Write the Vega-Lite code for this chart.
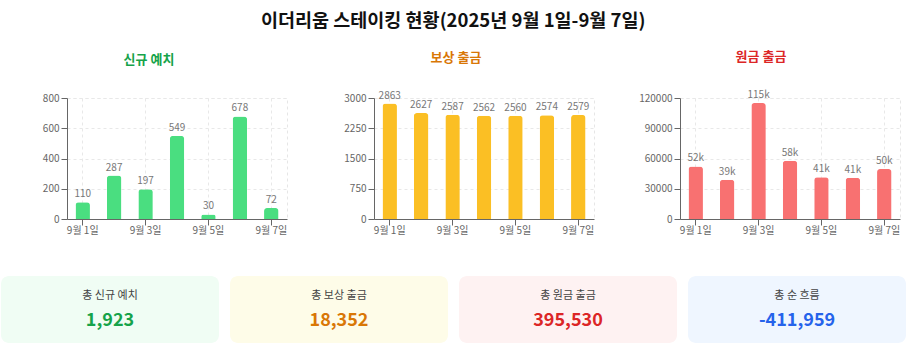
{
  "$schema": "https://vega.github.io/schema/vega-lite/v6.json",
  "padding": {"left": 0, "top": 12, "right": 5, "bottom": 5},
  "title": {"text": "이더리움 스테이킹 현황(2025년 9월 1일-9월 7일)", "fontSize": 18.5, "fontWeight": "bold", "color": "#111111", "anchor": "middle", "offset": 20},
  "spacing": 40,
  "vconcat": [
    {
      "spacing": 40,
      "hconcat": [
        {
          "width": 220, "height": 121,
          "title": {"text": "신규 예치", "color": "#16a34a", "fontSize": 13, "fontWeight": "bold", "anchor": "middle", "frame": "group", "dx": -28, "offset": 26},
          "data": {"values": [
            {"date": "9월 1일", "value": 110},
            {"date": "9월 2일", "value": 287},
            {"date": "9월 3일", "value": 197},
            {"date": "9월 4일", "value": 549},
            {"date": "9월 5일", "value": 30},
            {"date": "9월 6일", "value": 678},
            {"date": "9월 7일", "value": 72}
          ]},
          "encoding": {
            "x": {"field": "date", "type": "ordinal", "sort": null, "scale": {"paddingInner": 0.54, "paddingOuter": 0.27},
              "axis": {"values": ["9월 1일", "9월 3일", "9월 5일", "9월 7일"], "title": null, "labelAngle": 0, "bandPosition": 0.5, "labelPadding": 0}},
            "y": {"field": "value", "type": "quantitative", "scale": {"domain": [0, 800], "nice": false},
              "axis": {"values": [0, 200, 400, 600, 800], "title": null, "minExtent": 66}}
          },
          "layer": [
            {"mark": {"type": "bar", "color": "#4ade80", "cornerRadiusTopLeft": 3, "cornerRadiusTopRight": 3}},
            {"mark": {"type": "text", "baseline": "alphabetic", "dy": -5, "fontSize": 10, "color": "#777777"}, "encoding": {"text": {"field": "value", "type": "quantitative"}}}
          ]
        },
        {
          "width": 220, "height": 121,
          "title": {"text": "보상 출금", "color": "#d97706", "fontSize": 13, "fontWeight": "bold", "anchor": "middle", "frame": "group", "dx": -28, "offset": 26},
          "data": {"values": [
            {"date": "9월 1일", "value": 2863},
            {"date": "9월 2일", "value": 2627},
            {"date": "9월 3일", "value": 2587},
            {"date": "9월 4일", "value": 2562},
            {"date": "9월 5일", "value": 2560},
            {"date": "9월 6일", "value": 2574},
            {"date": "9월 7일", "value": 2579}
          ]},
          "encoding": {
            "x": {"field": "date", "type": "ordinal", "sort": null, "scale": {"paddingInner": 0.54, "paddingOuter": 0.27},
              "axis": {"values": ["9월 1일", "9월 3일", "9월 5일", "9월 7일"], "title": null, "labelAngle": 0, "bandPosition": 0.5, "labelPadding": 0}},
            "y": {"field": "value", "type": "quantitative", "scale": {"domain": [0, 3000], "nice": false},
              "axis": {"values": [0, 750, 1500, 2250, 3000], "title": null, "format": "d", "minExtent": 45}}
          },
          "layer": [
            {"mark": {"type": "bar", "color": "#fbbf24", "cornerRadiusTopLeft": 3, "cornerRadiusTopRight": 3}},
            {"mark": {"type": "text", "baseline": "alphabetic", "dy": -5, "fontSize": 10, "color": "#777777"}, "encoding": {"text": {"field": "value", "type": "quantitative", "format": "d"}}}
          ]
        },
        {
          "width": 220, "height": 121,
          "title": {"text": "원금 출금", "color": "#dc2626", "fontSize": 13, "fontWeight": "bold", "anchor": "middle", "frame": "group", "dx": -29, "offset": 26},
          "data": {"values": [
            {"date": "9월 1일", "value": 52100, "label": "52k"},
            {"date": "9월 2일", "value": 38900, "label": "39k"},
            {"date": "9월 3일", "value": 115000, "label": "115k"},
            {"date": "9월 4일", "value": 57800, "label": "58k"},
            {"date": "9월 5일", "value": 41300, "label": "41k"},
            {"date": "9월 6일", "value": 40900, "label": "41k"},
            {"date": "9월 7일", "value": 49530, "label": "50k"}
          ]},
          "encoding": {
            "x": {"field": "date", "type": "ordinal", "sort": null, "scale": {"paddingInner": 0.54, "paddingOuter": 0.27},
              "axis": {"values": ["9월 1일", "9월 3일", "9월 5일", "9월 7일"], "title": null, "labelAngle": 0, "bandPosition": 0.5, "labelPadding": 0}},
            "y": {"field": "value", "type": "quantitative", "scale": {"domain": [0, 120000], "nice": false},
              "axis": {"values": [0, 30000, 60000, 90000, 120000], "title": null, "format": "d", "minExtent": 44}}
          },
          "layer": [
            {"mark": {"type": "bar", "color": "#f87171", "cornerRadiusTopLeft": 3, "cornerRadiusTopRight": 3}},
            {"mark": {"type": "text", "baseline": "alphabetic", "dy": -5, "fontSize": 10, "color": "#777777"}, "encoding": {"text": {"field": "label", "type": "nominal"}}}
          ]
        }
      ]
    },
    {
      "width": 839, "height": 67,
      "view": {"stroke": null},
      "data": {"values": [
        {"metric": "총 신규 예치", "total": 1923},
        {"metric": "총 보상 출금", "total": 18352},
        {"metric": "총 원금 출금", "total": 395530},
        {"metric": "총 순 흐름", "total": -411959}
      ]},
      "encoding": {
        "x": {"field": "metric", "type": "nominal", "sort": null, "axis": null, "scale": {"range": [-66, 839], "paddingInner": 0.048, "paddingOuter": 0}}
      },
      "layer": [
        {"mark": {"type": "bar", "cornerRadius": 8},
          "encoding": {"fill": {"field": "metric", "type": "nominal", "legend": null,
            "scale": {"domain": ["총 신규 예치", "총 보상 출금", "총 원금 출금", "총 순 흐름"], "range": ["#f0fdf4", "#fefce8", "#fef2f2", "#eff6ff"]}}}},
        {"mark": {"type": "text", "fontSize": 11, "color": "#444444", "baseline": "middle", "dy": -14},
          "encoding": {"text": {"field": "metric", "type": "nominal"}}},
        {"mark": {"type": "text", "fontSize": 18, "fontWeight": "bold", "baseline": "middle", "dy": 11},
          "encoding": {"text": {"field": "total", "type": "quantitative", "format": ","},
            "color": {"field": "metric", "type": "nominal", "legend": null,
              "scale": {"domain": ["총 신규 예치", "총 보상 출금", "총 원금 출금", "총 순 흐름"], "range": ["#16a34a", "#d97706", "#dc2626", "#2563eb"]}}}}
      ]
    }
  ],
  "config": {
    "font": "Noto Sans CJK KR",
    "locale": {"number": {"decimal": ".", "thousands": ",", "grouping": [3], "currency": ["$", ""], "minus": "-"}},
    "view": {"stroke": "#e6e6e6", "strokeDash": [3, 3]},
    "axis": {
      "grid": true, "gridDash": [3, 3], "gridColor": "#e8e8e8",
      "domainColor": "#666666", "tickColor": "#666666", "labelColor": "#666666",
      "labelFontSize": 10, "tickSize": 6, "labelPadding": 2, "labelFont": "Noto Sans CJK KR"
    },
    "title": {"font": "Noto Sans CJK KR"}
  }
}
